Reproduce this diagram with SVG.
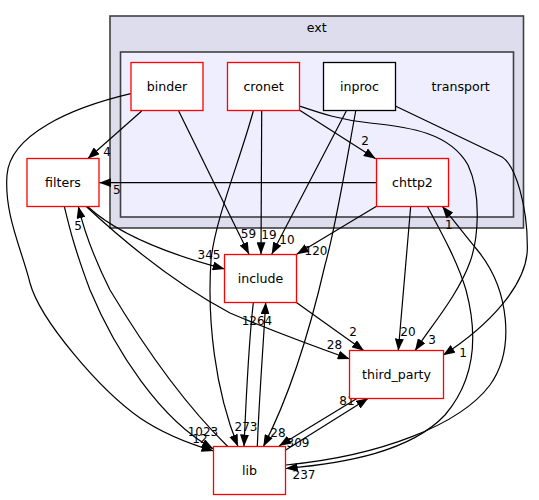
<svg xmlns="http://www.w3.org/2000/svg" width="539" height="500" viewBox="0 0 539 500">
<style>
.cl{stroke:#404040;stroke-width:1.6}
.n rect{fill:#ffffff;stroke:#ff0000;stroke-width:1.3}
.n text,.lbl{font-family:"DejaVu Sans",sans-serif;font-size:12.6px;text-anchor:middle;fill:#000}
#edges path{fill:none;stroke:#000;stroke-width:1.2;marker-end:url(#ah)}
#edges text{font-family:"DejaVu Sans",sans-serif;font-size:12px;text-anchor:middle;fill:#000}
</style>
<defs>
<marker id="ah" markerUnits="userSpaceOnUse" viewBox="0 0 12 9" refX="12" refY="4.5" markerWidth="12" markerHeight="9" orient="auto">
<path d="M0,0 L12,4.5 L0,9 z" fill="#000"/>
</marker>
</defs>
<rect width="539" height="500" fill="#ffffff"/>
<g id="cluster_ext">
<rect class="cl" x="110" y="16" width="413.5" height="212" fill="#ddddee"/>
<text class="lbl" x="316.7" y="31.5">ext</text>
</g>
<g id="cluster_transport">
<rect class="cl" x="120.5" y="52" width="393" height="165" fill="#eeeeff"/>
<text class="lbl" x="460.7" y="90.5">transport</text>
</g>
<g id="edges">
<path d="M141.7,111 L87.7,158.7"/><text x="107" y="156">4</text>
<path d="M178.7,111 L249,254.3"/><text x="248.5" y="237.5">59</text>
<path d="M130.7,93.7 C70,108 10,135 7,175 C4,215 22,250 30,283 C40,320 100,390 140,418 C165,435 190,444 213.5,451"/><text x="200" y="443">12</text>
<path d="M261.7,111 L261,254.3"/><text x="269" y="239">19</text>
<path d="M253.3,111 C240,160 215,220 211,260 C207,320 215,390 238,446.5"/>
<path d="M299.3,110 L375.7,158.7"/><text x="365" y="145">2</text>
<path d="M299.3,106 C320,113 340,120 370,123 C410,127 450,133 468,165 C482,195 478,240 470,262 C458,295 432,325 415,350.7"/><text x="432" y="344">3</text>
<path d="M346.3,111 L271.7,254.3"/><text x="287" y="244">10</text>
<path d="M355.7,111 C345,170 335,230 325,265 C310,330 290,395 263.3,446.7"/><text x="278" y="437">28</text>
<path d="M395.3,106 L502,157 C515,165 528,205 527.3,250 C526,285 490,325 443,355.3"/><text x="463" y="357">1</text>
<path d="M376.5,182.7 L99.3,182.7"/><text x="116.7" y="194">5</text>
<path d="M376.5,206.3 L296.7,254.3"/><text x="316" y="255">120</text>
<path d="M410.7,206.3 L398.3,350.7"/><text x="408" y="336">20</text>
<path d="M427.3,206.3 C440,230 457,260 466,290 C478,335 475,380 445,415 C410,452 345,463 285.7,468.5"/><text x="304" y="479.3">237</text>
<path d="M87.3,206.3 C115,232 160,252 224.7,269"/><text x="209" y="259.3">345</text>
<path d="M86,206.3 C118,236 168,280 230,313 C270,330 310,345 349.7,359"/><text x="334.5" y="349">28</text>
<path d="M64.3,206.3 C70,230 75,250 90,290 C115,350 160,420 213.5,449"/><text x="203" y="436">1023</text>
<path d="M295.7,302 L364,350.7"/><text x="353" y="336">2</text>
<path d="M253.3,302.7 C249,340 246,400 244,446.5"/><text x="246" y="431">273</text>
<path d="M257.3,446.7 C259,400 263,350 265.7,302.3"/><text x="257" y="325">1264</text>
<path d="M228,446.7 C180,400 140,340 110,290 C95,260 85,235 78.3,206.3"/><text x="78" y="230">5</text>
<path d="M285.7,465 C380,456 460,425 490,385 C515,350 510,290 477.3,250 C465,235 455,222 442.3,206.3"/><text x="448.7" y="229">1</text>
<path d="M285.7,450 L368.3,398.3"/><text x="347" y="405">81</text>
<path d="M357.3,398.3 L279,446"/><text x="298" y="447">309</text>
</g>
<g id="binder" class="n"><rect x="131" y="62.5" width="72" height="48"/><text x="167" y="90.5">binder</text></g>
<g id="cronet" class="n"><rect x="227.5" y="62.5" width="72" height="48"/><text x="263.5" y="90.5">cronet</text></g>
<g id="inproc" class="n"><rect x="323.5" y="62.5" width="72" height="48" style="stroke:#000"/><text x="359.5" y="90.5">inproc</text></g>
<g id="chttp2" class="n"><rect x="376.5" y="158.5" width="72" height="48"/><text x="412.5" y="186.5">chttp2</text></g>
<g id="filters" class="n"><rect x="27" y="158.5" width="72" height="48"/><text x="63" y="186.5">filters</text></g>
<g id="include" class="n"><rect x="224.5" y="254.5" width="72" height="48"/><text x="260.5" y="282.5">include</text></g>
<g id="third_party" class="n"><rect x="349.5" y="350.5" width="94" height="48"/><text x="396.5" y="378.5">third_party</text></g>
<g id="lib" class="n"><rect x="213.5" y="446.5" width="72" height="48"/><text x="249.5" y="474.5">lib</text></g>
</svg>
